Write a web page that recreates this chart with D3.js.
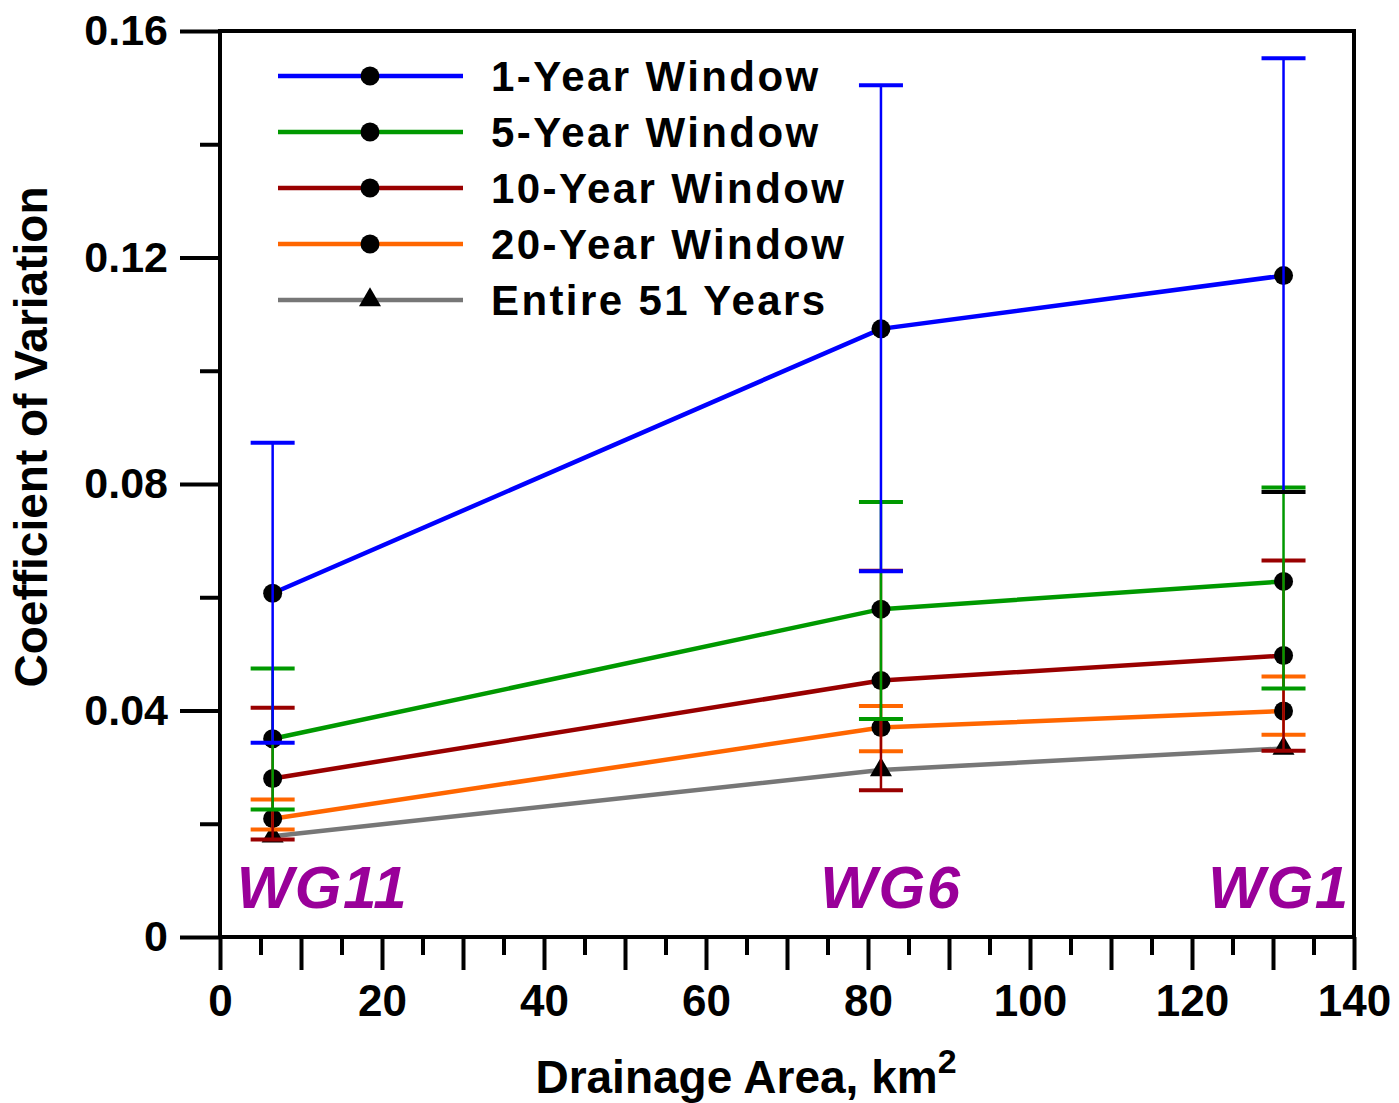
<!DOCTYPE html>
<html>
<head>
<meta charset="utf-8">
<script src="https://cdn.jsdelivr.net/npm/d3@7"></script>
<style>
  body { margin: 0; background: #fff; }
  svg { display: block; font-family: "Liberation Sans", Arial, sans-serif; }
</style>
</head>
<body>
<script>
// ---------------------- DATA ----------------------
const areas = [6.5, 81.6, 131.3];
const gauges = ["WG11", "WG6", "WG1"];

const seriesNames = ["1-Year Window", "5-Year Window", "10-Year Window", "20-Year Window", "Entire 51 Years"];
const seriesColors = ["#0000ff", "#009900", "#990000", "#ff6600", "#777777"];

const cv1 = [0.0607, 0.1074, 0.1168];
const cv5 = [0.0350, 0.0579, 0.0628];
const cv10 = [0.0280, 0.0453, 0.0497];
const cv20 = [0.0209, 0.0370, 0.0399];
const cvAll = [0.0178, 0.0295, 0.0333];

// error bar ends (low, high)
const err1Lo = [0.0343, 0.0646, 0.0786];
const err1Hi = [0.0873, 0.1504, 0.1552];
const err5Lo = [0.0225, 0.0385, 0.0439];
const err5Hi = [0.0474, 0.0768, 0.0794];
const err10Lo = [0.0172, 0.0259, 0.0329];
const err10Hi = [0.0405, 0.0647, 0.0665];
const err20Lo = [0.0190, 0.0328, 0.0357];
const err20Hi = [0.0243, 0.0408, 0.0460];

const xTicks = d3.range(0, 141, 5);
const yTicks = d3.range(0, 0.1601, 0.02);

// ---------------------- SETUP ----------------------
const W = 1399, H = 1103;
const margin = {left: 220, top: 31, right: 45, bottom: 166};
const innerW = W - margin.left - margin.right;
const innerH = H - margin.top - margin.bottom;

const svg = d3.select("body").append("svg")
    .attr("width", W)
    .attr("height", H);

const g = svg.append("g").attr("transform", `translate(${margin.left},${margin.top})`);

const x = d3.scaleLinear().domain([0, 140]).range([0, innerW]);
const y = d3.scaleLinear().domain([0, 0.16]).range([innerH, 0]);

const series = seriesNames.map((name, i) => ({
    name,
    color: seriesColors[i],
    values: [cv1, cv5, cv10, cv20, cvAll][i],
    lo: [err1Lo, err5Lo, err10Lo, err20Lo, null][i],
    hi: [err1Hi, err5Hi, err10Hi, err20Hi, null][i],
    marker: i === 4 ? "triangle" : "circle"
}));

const triangle = d3.symbol(d3.symbolTriangle, 210)();

// ---------------------- AXES ----------------------
const xAxis = g.append("g")
    .attr("transform", `translate(0,${innerH})`)
    .call(d3.axisBottom(x).tickValues(xTicks).tickSizeOuter(0)
        .tickFormat(d => d % 20 === 0 ? d : ""));
xAxis.select(".domain").remove();
xAxis.selectAll(".tick line")
    .attr("stroke", "#000").attr("stroke-width", 4)
    .attr("y2", d => d % 10 === 0 ? 33 : 18);
xAxis.selectAll(".tick text")
    .attr("y", 48).attr("dy", "0.71em")
    .style("font-size", "44px").style("font-weight", "bold").attr("fill", "#000");

const yAxis = g.append("g")
    .call(d3.axisLeft(y).tickValues(yTicks).tickSizeOuter(0)
        .tickFormat(d => {
            const r = Math.round(d * 100);
            if (r % 4 !== 0) return "";
            return r === 0 ? "0" : d3.format(".2f")(d);
        }));
yAxis.select(".domain").remove();
yAxis.selectAll(".tick line")
    .attr("stroke", "#000").attr("stroke-width", 4)
    .attr("x2", d => Math.round(d * 100) % 4 === 0 ? -40 : -20);
yAxis.selectAll(".tick text")
    .attr("x", -52)
    .style("font-size", "43px").style("font-weight", "bold").attr("fill", "#000");

// frame
g.append("rect")
    .attr("width", innerW).attr("height", innerH)
    .attr("fill", "none").attr("stroke", "#000").attr("stroke-width", 4);

// axis titles
svg.append("text")
    .attr("transform", `translate(47,${margin.top + 406}) rotate(-90)`)
    .attr("text-anchor", "middle")
    .style("font-size", "46px").style("font-weight", "bold")
    .text("Coefficient of Variation");

const xt = svg.append("text")
    .attr("x", 746).attr("y", 1093)
    .attr("text-anchor", "middle")
    .style("font-size", "46px").style("font-weight", "bold");
xt.append("tspan").text("Drainage Area, km");
xt.append("tspan").attr("dy", -20).style("font-size", "34px").text("2");

// ---------------------- SERIES ----------------------
const line = d3.line().x((d, i) => x(areas[i])).y(d => y(d));

series.slice().reverse().forEach(s => {
    g.append("path")
        .datum(s.values)
        .attr("fill", "none")
        .attr("stroke", s.color)
        .attr("stroke-width", 4.5)
        .attr("d", line);
});

series.forEach(s => {
    s.values.forEach((v, i) => {
        if (s.marker === "circle") {
            g.append("circle").attr("cx", x(areas[i])).attr("cy", y(v)).attr("r", 9.5).attr("fill", "#000");
        } else {
            g.append("path")
                .attr("transform", `translate(${x(areas[i])},${y(v)})`)
                .attr("d", triangle)
                .attr("fill", "#000");
        }
    });
});

// error bars, drawn from the widest window to the narrowest one last
const capW = 22;
[3, 2, 1, 0].forEach(k => {
    const s = series[k];
    s.values.forEach((v, i) => {
        const cx = x(areas[i]);
        g.append("line")
            .attr("x1", cx).attr("x2", cx)
            .attr("y1", y(s.lo[i])).attr("y2", y(s.hi[i]))
            .attr("stroke", s.color).attr("stroke-width", 2.5);
        [s.lo[i], s.hi[i]].forEach((e, j) => {
            const capColor = (k === 0 && i === 2 && j === 0) ? "#000" : s.color;
            g.append("line")
                .attr("x1", cx - capW).attr("x2", cx + capW)
                .attr("y1", y(e)).attr("y2", y(e))
                .attr("stroke", capColor).attr("stroke-width", 4);
        });
    });
});

// gauge labels
const gaugeAnchor = ["start", "middle", "end"];
const gaugeDx = [-36, 10, 66];
gauges.forEach((name, i) => {
    g.append("text")
        .attr("x", x(areas[i]) + gaugeDx[i])
        .attr("y", y(0) - 29)
        .attr("text-anchor", gaugeAnchor[i])
        .attr("fill", "#990099")
        .style("font-size", "60px").style("font-weight", "bold").style("font-style", "italic")
        .style("letter-spacing", "1.5px")
        .text(name);
});

// ---------------------- LEGEND ----------------------
const legend = svg.append("g").attr("transform", "translate(278,76)");
series.forEach((s, i) => {
    const row = legend.append("g").attr("transform", `translate(0,${i * 56})`);
    row.append("line").attr("x1", 0).attr("x2", 185).attr("y1", 0).attr("y2", 0)
        .attr("stroke", s.color).attr("stroke-width", 4.5);
    if (s.marker === "circle") {
        row.append("circle").attr("cx", 92).attr("cy", 0).attr("r", 9.5).attr("fill", "#000");
    } else {
        row.append("path").attr("transform", "translate(92,0)")
            .attr("d", triangle).attr("fill", "#000");
    }
    row.append("text")
        .attr("x", 213).attr("y", 0).attr("dy", "0.36em")
        .style("font-size", "42px").style("font-weight", "bold")
        .style("letter-spacing", "2.4px")
        .text(s.name);
});
</script>
</body>
</html>
